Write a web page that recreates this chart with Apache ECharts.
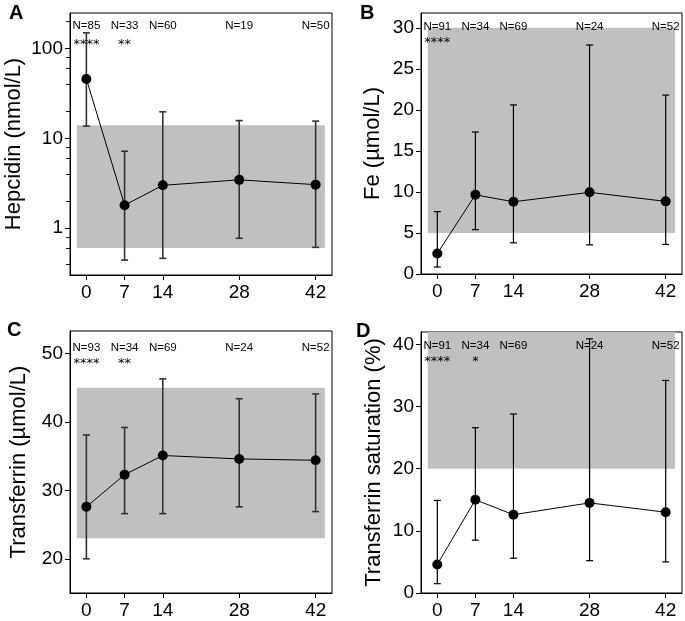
<!DOCTYPE html>
<html><head><meta charset="utf-8">
<script src="https://cdn.jsdelivr.net/npm/echarts@6/dist/echarts.min.js"></script>
<style>html,body{margin:0;padding:0;background:#fff}#c{width:685px;height:621px}</style>
</head><body><div id="c"></div>
<script>
// ---- data ----
const days = [0, 7, 14, 28, 42];

const hepcidin = [46, 1.8, 3.0, 3.45, 3.05];
const hepcidinLow = [13.7, 0.44, 0.46, 0.77, 0.61];
const hepcidinHigh = [150, 7.2, 19.8, 15.8, 15.6];
const hepcidinN = [85, 33, 60, 19, 50];
const hepcidinStars = ['****', '**', '', '', ''];
const hepcidinRef = [0.6, 14];

const fe = [2.5, 9.65, 8.8, 9.95, 8.85];
const feLow = [0.85, 5.4, 3.8, 3.55, 3.6];
const feHigh = [7.6, 17.3, 20.6, 27.9, 21.8];
const feN = [91, 34, 69, 24, 52];
const feStars = ['****', '', '', '', ''];
const feRef = [5, 30];

const transferrin = [27.6, 32.3, 35.1, 34.6, 34.4];
const transferrinLow = [20, 26.6, 26.6, 27.6, 26.9];
const transferrinHigh = [38.1, 39.2, 46.3, 43.4, 44.1];
const transferrinN = [93, 34, 69, 24, 52];
const transferrinStars = ['****', '**', '', '', ''];
const transferrinRef = [23, 45];

const tsat = [4.6, 15.0, 12.6, 14.5, 13.0];
const tsatLow = [1.5, 8.5, 5.6, 5.2, 5.0];
const tsatHigh = [14.9, 26.6, 28.8, 40.9, 34.2];
const tsatN = [91, 34, 69, 24, 52];
const tsatStars = ['****', '*', '', '', ''];
const tsatRef = [20, 42];

const refDays = [-1.75, 43.7];
const xTicks = [0, 7, 14, 28, 42];
const hepcidinTicks = [1, 10, 100];
const hepcidinMinorTicks = [0.4, 0.6, 0.8, 2, 4, 6, 8, 20, 40, 60, 80, 200];
const feTicks = [0, 5, 10, 15, 20, 25, 30];
const transferrinTicks = [20, 30, 40, 50];
const tsatTicks = [0, 10, 20, 30, 40];

// ---- layout ----
const FONT = 'Liberation Sans, Arial, Helvetica, sans-serif';
const STAR_FONT = 'DejaVu Sans, sans-serif';
const panels = [
  {letter: 'A', name: 'Hepcidin (nmol/L)', grid: {left: 70, top: 13, width: 262, height: 262},
   y: {type: 'log', logBase: 10, min: 0.3, max: 250}, ticks: hepcidinTicks, minor: hepcidinMinorTicks,
   mean: hepcidin, low: hepcidinLow, high: hepcidinHigh, n: hepcidinN, stars: hepcidinStars, ref: hepcidinRef,
   nameGap: 45, nOff: 13, sOff: 32, errColor: '#333', errWidth: 1.6, letterPos: [9, 3]},
  {letter: 'B', name: 'Fe (\u00B5mol/L)', grid: {left: 421, top: 13, width: 261, height: 261},
   y: {type: 'value', min: 0, max: 31.8}, ticks: feTicks,
   mean: fe, low: feLow, high: feHigh, n: feN, stars: feStars, ref: feRef,
   nameGap: 37, nOff: 14, sOff: 30, errColor: '#000', errWidth: 1.2, letterPos: [360, 3]},
  {letter: 'C', name: 'Transferrin (\u00B5mol/L)', grid: {left: 70, top: 331, width: 262, height: 262},
   y: {type: 'value', min: 15, max: 53.3}, ticks: transferrinTicks,
   mean: transferrin, low: transferrinLow, high: transferrinHigh, n: transferrinN, stars: transferrinStars, ref: transferrinRef,
   nameGap: 40, nOff: 17, sOff: 33, errColor: '#333', errWidth: 1.6, letterPos: [7, 320]},
  {letter: 'D', name: 'Transferrin saturation (%)', grid: {left: 421, top: 332, width: 261, height: 261},
   y: {type: 'value', min: 0, max: 42}, ticks: tsatTicks,
   mean: tsat, low: tsatLow, high: tsatHigh, n: tsatN, stars: tsatStars, ref: tsatRef,
   nameGap: 36, nOff: 14, sOff: 30, errColor: '#000', errWidth: 1.2, letterPos: [356, 321]}
];

const option = {animation: false, backgroundColor: '#fff', grid: [], xAxis: [], yAxis: [], series: [], graphic: []};

panels.forEach((p, gi) => {
  option.grid.push(Object.assign({show: true, borderColor: '#000', borderWidth: 1, backgroundColor: 'transparent'}, p.grid));
  option.xAxis.push({
    type: 'value', gridIndex: gi, min: -3, max: 45, position: 'bottom',
    axisLine: {show: true, onZero: false, lineStyle: {color: '#000', width: 1}},
    axisTick: {show: true, inside: false, length: 5, customValues: xTicks, lineStyle: {color: '#000'}},
    axisLabel: {show: true, customValues: xTicks, fontSize: 19, color: '#000', fontFamily: FONT, margin: 8},
    splitLine: {show: false}
  });
  const yi = option.yAxis.length;
  option.yAxis.push(Object.assign({
    gridIndex: gi, position: 'left', name: p.name, nameLocation: 'middle', nameRotate: 90, nameGap: p.nameGap,
    nameTextStyle: {fontSize: 22, color: '#000', fontFamily: FONT},
    axisLine: {show: true, onZero: false, lineStyle: {color: '#000', width: 1}},
    axisTick: {show: true, inside: false, length: 5, customValues: p.ticks, lineStyle: {color: '#000'}},
    axisLabel: {show: true, customValues: p.ticks, fontSize: 19, color: '#000', fontFamily: FONT, margin: 7,
      formatter: v => String(v)},
    splitLine: {show: false}
  }, p.y));
  if (p.minor) {
    option.yAxis.push(Object.assign({
      gridIndex: gi, position: 'left', offset: 0,
      axisLine: {show: false, onZero: false},
      axisTick: {show: true, inside: false, length: 4, customValues: p.minor, lineStyle: {color: '#000'}},
      axisLabel: {show: false}, splitLine: {show: false}
    }, p.y));
  }
  // reference band + mean line
  option.series.push({
    type: 'line', xAxisIndex: gi, yAxisIndex: yi, z: 3,
    data: days.map((d, i) => [d, p.mean[i]]),
    symbol: 'circle', symbolSize: 10, itemStyle: {color: '#000'},
    lineStyle: {color: '#000', width: 1},
    markArea: {silent: true, itemStyle: {color: '#c0c0c0'},
      data: [[{coord: [refDays[0], p.ref[0]]}, {coord: [refDays[1], p.ref[1]]}]]}
  });
  // error bars
  option.series.push({
    type: 'custom', xAxisIndex: gi, yAxisIndex: yi, z: 2,
    data: days.map((d, i) => [d, p.low[i], p.high[i]]),
    encode: {x: 0, y: [1, 2]},
    renderItem: (params, api) => {
      const x = api.value(0);
      const lo = api.coord([x, api.value(1)]);
      const hi = api.coord([x, api.value(2)]);
      const c = 3.5;
      const st = {stroke: p.errColor, lineWidth: p.errWidth};
      return {type: 'group', children: [
        {type: 'line', shape: {x1: hi[0], y1: hi[1], x2: lo[0], y2: lo[1]}, style: st},
        {type: 'line', shape: {x1: hi[0] - c, y1: hi[1], x2: hi[0] + c, y2: hi[1]}, style: st},
        {type: 'line', shape: {x1: lo[0] - c, y1: lo[1], x2: lo[0] + c, y2: lo[1]}, style: st}
      ]};
    }
  });
  // N labels and significance stars
  option.series.push({
    type: 'custom', xAxisIndex: gi, yAxisIndex: yi, z: 4, silent: true,
    data: days.map((d, i) => [d, p.mean[i]]),
    renderItem: (params, api) => {
      const i = params.dataIndex;
      const pt = api.coord([api.value(0), api.value(1)]);
      const top = params.coordSys.y;
      return {type: 'group', children: [
        {type: 'text', x: pt[0], y: top + p.nOff,
         style: {text: 'N=' + p.n[i], align: 'center', verticalAlign: 'middle', fontSize: 11.5, fontFamily: FONT, fill: '#000'}},
        {type: 'text', x: pt[0], y: top + p.sOff,
         style: {text: p.stars[i], align: 'center', verticalAlign: 'middle', fontSize: 13, fontFamily: STAR_FONT, fill: '#000'}}
      ]};
    }
  });
  option.graphic.push({type: 'text', left: p.letterPos[0], top: p.letterPos[1],
    style: {text: p.letter, font: 'bold 20px ' + FONT, fill: '#000'}});
});

const chart = echarts.init(document.getElementById('c'), null, {renderer: 'canvas'});
chart.setOption(option);
</script>
</body></html>
